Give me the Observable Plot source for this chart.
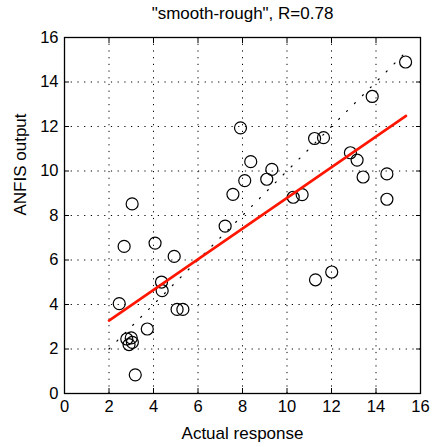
<!DOCTYPE html>
<html><head><meta charset="utf-8">
<script src="https://cdn.jsdelivr.net/npm/d3@7"></script>
<script src="https://cdn.jsdelivr.net/npm/@observablehq/plot@0.6"></script>
<style>body{margin:0;background:#fff}</style>
</head><body><div id="chart"></div>
<script>
const actual = [15.33, 13.83, 7.91, 11.24, 11.64, 12.85, 13.15, 13.42, 14.49, 14.49, 8.37, 9.32, 9.09, 8.10, 7.57, 10.28, 10.68, 7.22, 3.04, 2.68, 4.07, 4.93, 4.36, 4.39, 2.46, 5.06, 5.32, 3.72, 2.80, 3.00, 2.90, 3.05, 3.18, 11.28, 12.01];
const anfis  = [14.90, 13.35, 11.94, 11.46, 11.50, 10.82, 10.49, 9.73, 9.87, 8.73, 10.42, 10.07, 9.63, 9.57, 8.95, 8.82, 8.94, 7.52, 8.52, 6.61, 6.76, 6.16, 5.01, 4.62, 4.04, 3.78, 3.78, 2.90, 2.45, 2.50, 2.20, 2.30, 0.84, 5.11, 5.46];
const xTicks = [0, 2, 4, 6, 8, 10, 12, 14, 16];
const yTicks = [0, 2, 4, 6, 8, 10, 12, 14, 16];
const gridTicks = [2, 4, 6, 8, 10, 12, 14];
const fitSlope = 0.689;
const fitIntercept = 1.90;
const fitRange = [2.0, 15.35];
const titleText = '"smooth-rough", R=0.78';
const xLabel = "Actual response";
const yLabel = "ANFIS output";

const points = actual.map((a, i) => ({actual: a, anfis: anfis[i]}));
const fitLine = fitRange.map(x => ({x, y: fitSlope * x + fitIntercept}));
const diagLine = fitRange.map(x => ({x, y: x}));

const font = "'Liberation Sans', Arial, Helvetica, sans-serif";

const chart = Plot.plot({
  width: 432,
  height: 447,
  marginTop: 37,
  marginLeft: 64,
  marginRight: 12,
  marginBottom: 54,
  style: {fontFamily: font, fontSize: "16px", background: "white", color: "black"},
  x: {domain: [0, 16]},
  y: {domain: [0, 16]},
  marks: [
    Plot.gridX(gridTicks, {stroke: "black", strokeOpacity: 1, strokeWidth: 1, strokeDasharray: "1.2,5.5"}),
    Plot.gridY(gridTicks, {stroke: "black", strokeOpacity: 1, strokeWidth: 1, strokeDasharray: "1.2,5.5"}),
    Plot.line(diagLine, {x: "x", y: "y", stroke: "black", strokeWidth: 1.2, strokeDasharray: "1.2,10"}),
    Plot.dot(points, {x: "actual", y: "anfis", r: 6, stroke: "black", strokeWidth: 1.2, fill: "none"}),
    Plot.line(fitLine, {x: "x", y: "y", stroke: "#ff1500", strokeWidth: 2.6}),
    Plot.frame({stroke: "black", strokeWidth: 1.3}),
    Plot.axisX(xTicks, {anchor: "bottom", tickSize: 5, dy: -5, fill: "none", stroke: "black", label: null}),
    Plot.axisX(xTicks, {anchor: "top", tickSize: 5, dy: 5, fill: "none", stroke: "black", label: null}),
    Plot.axisY(yTicks, {anchor: "left", tickSize: 5, dx: 5, fill: "none", stroke: "black", label: null}),
    Plot.axisY(yTicks, {anchor: "right", tickSize: 5, dx: -5, fill: "none", stroke: "black", label: null}),
    Plot.axisX(xTicks, {anchor: "bottom", tickSize: 0, tickPadding: 7, fontSize: 16.5, fill: "black", label: null}),
    Plot.axisY(yTicks, {anchor: "left", tickSize: 0, tickPadding: 6, fontSize: 16.5, fill: "black", label: null}),
    Plot.text([xLabel], {frameAnchor: "bottom", dy: 45, lineAnchor: "bottom", fontSize: 17, fill: "black"}),
    Plot.text([yLabel], {frameAnchor: "left", dx: -39, rotate: -90, lineAnchor: "bottom", fontSize: 17, fill: "black"}),
    Plot.text([titleText], {frameAnchor: "top", dy: -19, lineAnchor: "bottom", fontSize: 17, fill: "black"})
  ]
});
document.getElementById("chart").appendChild(chart);
</script>
</body></html>
